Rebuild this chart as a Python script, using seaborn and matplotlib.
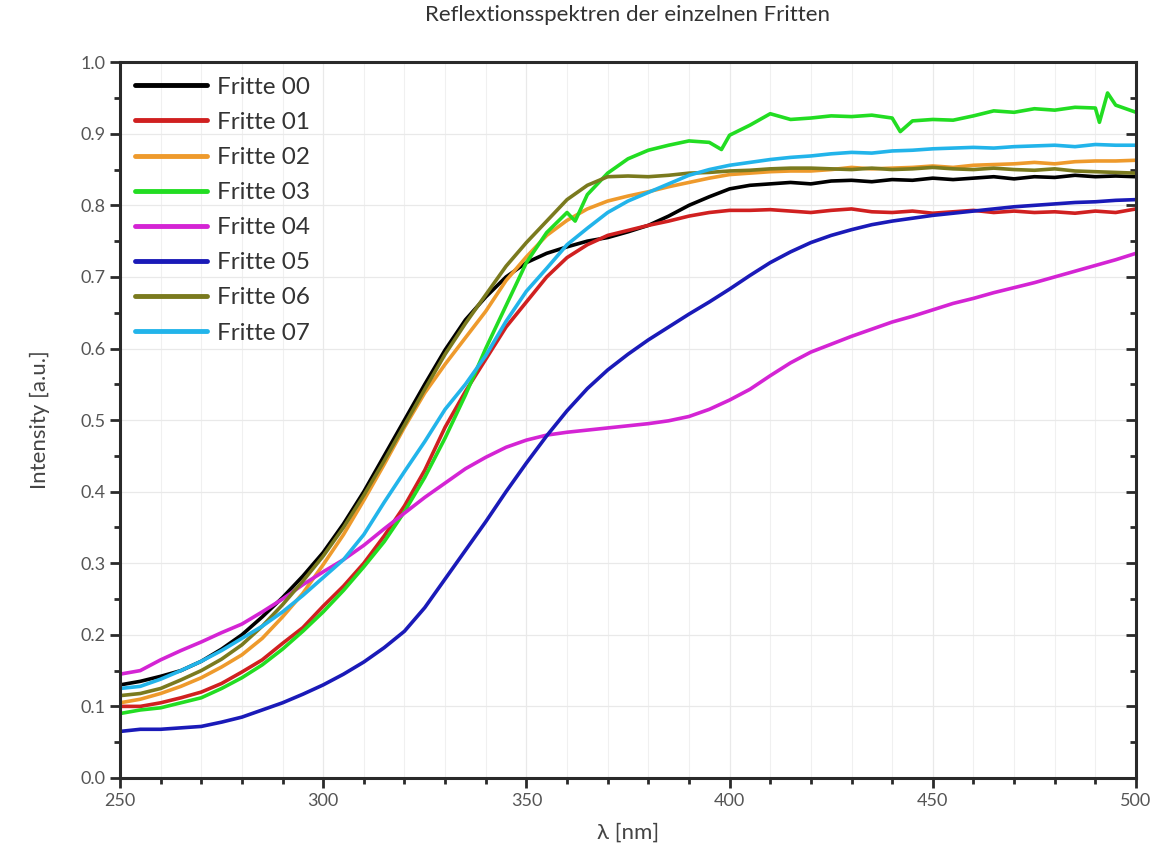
import numpy as np
import pandas as pd
import matplotlib
matplotlib.use("Agg")
import matplotlib.pyplot as plt
from matplotlib.ticker import MultipleLocator, FormatStrFormatter
import seaborn as sns

# Wavelength grid (nm) shared by most spectra
wavelength = list(range(250, 501, 5))

fritte_00 = [0.130, 0.135, 0.142, 0.150, 0.163, 0.180, 0.200, 0.225, 0.252, 0.282,
             0.315, 0.355, 0.400, 0.450, 0.500, 0.550, 0.598, 0.640, 0.672, 0.700,
             0.720, 0.733, 0.742, 0.750, 0.755, 0.763, 0.772, 0.785, 0.800, 0.812,
             0.823, 0.828, 0.830, 0.832, 0.830, 0.834, 0.835, 0.833, 0.836, 0.835,
             0.838, 0.836, 0.838, 0.840, 0.837, 0.840, 0.839, 0.842, 0.840, 0.841,
             0.840]
fritte_01 = [0.100, 0.100, 0.105, 0.112, 0.120, 0.132, 0.148, 0.165, 0.188, 0.210,
             0.240, 0.268, 0.300, 0.338, 0.380, 0.430, 0.490, 0.540, 0.585, 0.630,
             0.665, 0.700, 0.727, 0.745, 0.758, 0.765, 0.772, 0.778, 0.785, 0.790,
             0.793, 0.793, 0.794, 0.792, 0.790, 0.793, 0.795, 0.791, 0.790, 0.792,
             0.789, 0.791, 0.793, 0.790, 0.792, 0.790, 0.791, 0.789, 0.792, 0.790,
             0.795]
fritte_02 = [0.105, 0.110, 0.118, 0.128, 0.140, 0.155, 0.172, 0.195, 0.225, 0.258,
             0.298, 0.340, 0.388, 0.438, 0.490, 0.538, 0.578, 0.615, 0.652, 0.695,
             0.728, 0.758, 0.779, 0.795, 0.806, 0.813, 0.819, 0.826, 0.832, 0.838,
             0.843, 0.845, 0.847, 0.848, 0.848, 0.850, 0.853, 0.851, 0.852, 0.853,
             0.855, 0.853, 0.856, 0.857, 0.858, 0.860, 0.858, 0.861, 0.862, 0.862,
             0.863]
fritte_04 = [0.145, 0.150, 0.165, 0.178, 0.190, 0.203, 0.215, 0.232, 0.250, 0.270,
             0.288, 0.305, 0.325, 0.348, 0.370, 0.392, 0.412, 0.432, 0.448, 0.462,
             0.472, 0.479, 0.483, 0.486, 0.489, 0.492, 0.495, 0.499, 0.505, 0.515,
             0.528, 0.543, 0.562, 0.580, 0.595, 0.606, 0.617, 0.627, 0.637, 0.645,
             0.654, 0.663, 0.670, 0.678, 0.685, 0.692, 0.700, 0.708, 0.716, 0.724,
             0.733]
fritte_05 = [0.065, 0.068, 0.068, 0.070, 0.072, 0.078, 0.085, 0.095, 0.105, 0.117,
             0.130, 0.145, 0.162, 0.182, 0.205, 0.238, 0.278, 0.318, 0.358, 0.400,
             0.440, 0.478, 0.513, 0.544, 0.570, 0.592, 0.612, 0.630, 0.648, 0.665,
             0.683, 0.702, 0.720, 0.735, 0.748, 0.758, 0.766, 0.773, 0.778, 0.782,
             0.786, 0.789, 0.792, 0.795, 0.798, 0.800, 0.802, 0.804, 0.805, 0.807,
             0.808]
fritte_06 = [0.115, 0.118, 0.125, 0.137, 0.150, 0.166, 0.186, 0.212, 0.242, 0.275,
             0.310, 0.350, 0.395, 0.443, 0.493, 0.543, 0.592, 0.635, 0.675, 0.715,
             0.748, 0.778, 0.808, 0.828, 0.840, 0.841, 0.840, 0.842, 0.845, 0.846,
             0.848, 0.849, 0.851, 0.852, 0.852, 0.851, 0.850, 0.852, 0.850, 0.851,
             0.853, 0.851, 0.850, 0.852, 0.850, 0.849, 0.851, 0.848, 0.847, 0.846,
             0.845]
fritte_07 = [0.125, 0.128, 0.138, 0.150, 0.163, 0.178, 0.195, 0.212, 0.232, 0.255,
             0.280, 0.305, 0.340, 0.385, 0.428, 0.470, 0.515, 0.550, 0.590, 0.638,
             0.680, 0.712, 0.745, 0.768, 0.790, 0.806, 0.818, 0.830, 0.842, 0.850,
             0.856, 0.860, 0.864, 0.867, 0.869, 0.872, 0.874, 0.873, 0.876, 0.877,
             0.879, 0.880, 0.881, 0.880, 0.882, 0.883, 0.884, 0.882, 0.885, 0.884,
             0.884]

# Fritte 03 has a few sharp dips/spikes, so it carries its own wavelengths
wavelength_03 = [250, 255, 260, 265, 270, 275, 280, 285, 290, 295, 300, 305, 310,
                 315, 320, 325, 330, 335, 340, 345, 350, 355, 360, 362, 365, 370,
                 375, 380, 385, 390, 395, 398, 400, 405, 410, 415, 420, 425, 430,
                 435, 440, 442, 445, 450, 455, 460, 465, 470, 475, 480, 485, 490,
                 491, 493, 495, 500]
fritte_03 = [0.090, 0.095, 0.098, 0.105, 0.112, 0.125, 0.140, 0.158, 0.180, 0.205,
             0.232, 0.262, 0.295, 0.330, 0.372, 0.420, 0.475, 0.535, 0.600, 0.660,
             0.720, 0.762, 0.790, 0.778, 0.815, 0.845, 0.865, 0.877, 0.884, 0.890,
             0.888, 0.878, 0.898, 0.912, 0.928, 0.920, 0.922, 0.925, 0.924, 0.926,
             0.922, 0.903, 0.918, 0.920, 0.919, 0.925, 0.932, 0.930, 0.935, 0.933,
             0.937, 0.936, 0.916, 0.957, 0.940, 0.930]

labels = ["Fritte 00", "Fritte 01", "Fritte 02", "Fritte 03",
          "Fritte 04", "Fritte 05", "Fritte 06", "Fritte 07"]
colors = ["#000000", "#d02020", "#ee9a2c", "#22dd22",
          "#d424d4", "#1a1ab8", "#7a7a1e", "#22b4ea"]

series = {
    "Fritte 00": (wavelength, fritte_00),
    "Fritte 01": (wavelength, fritte_01),
    "Fritte 02": (wavelength, fritte_02),
    "Fritte 03": (wavelength_03, fritte_03),
    "Fritte 04": (wavelength, fritte_04),
    "Fritte 05": (wavelength, fritte_05),
    "Fritte 06": (wavelength, fritte_06),
    "Fritte 07": (wavelength, fritte_07),
}
frames = [pd.DataFrame({"wl": x, "I": y, "Probe": name})
          for name, (x, y) in series.items()]
df = pd.concat(frames, ignore_index=True)

sns.set_theme(style="white")
plt.rcParams["font.family"] = ["Lato", "DejaVu Sans"]

fig = plt.figure(figsize=(11.58, 8.52), dpi=100)
ax = fig.add_axes([0.1036, 0.0869, 0.8774, 0.8401])

sns.lineplot(data=df, x="wl", y="I", hue="Probe", hue_order=labels,
             palette=dict(zip(labels, colors)), linewidth=2.6,
             estimator=None, sort=False, ax=ax)

ax.set_xlim(250, 500)
ax.set_ylim(0.0, 1.0)
ax.xaxis.set_major_locator(MultipleLocator(50))
ax.xaxis.set_minor_locator(MultipleLocator(10))
ax.yaxis.set_major_locator(MultipleLocator(0.1))
ax.yaxis.set_minor_locator(MultipleLocator(0.05))
ax.yaxis.set_major_formatter(FormatStrFormatter("%.1f"))

ax.grid(True, which="major", color="#e9e9e9", linewidth=0.9)
ax.grid(True, which="minor", axis="x", color="#f0f0f0", linewidth=0.8)
ax.set_axisbelow(True)

for side in ["left", "bottom", "right", "top"]:
    ax.spines[side].set_visible(True)
    ax.spines[side].set_color("#2a2a2a")
    ax.spines[side].set_linewidth(2.2)

ax.tick_params(axis="both", which="major", direction="out", length=7, width=2,
               color="#2a2a2a", labelsize=13, labelcolor="#555555",
               bottom=True, left=True, right=True, top=False)
ax.tick_params(axis="both", which="minor", direction="out", length=4, width=2,
               color="#2a2a2a", bottom=True, left=True, right=True, top=False)
ax.tick_params(axis="y", which="both", right=True, labelright=False)
# right-hand ticks point into the plot
for t in ax.yaxis.get_major_ticks() + ax.yaxis.get_minor_ticks():
    t.tick2line.set_marker(matplotlib.lines.TICKLEFT)

ax.set_xlabel("λ [nm]", fontsize=16, color="#444444", labelpad=10)
ax.set_ylabel("Intensity [a.u.]", fontsize=16, color="#444444", labelpad=22)
ax.set_title("Reflextionsspektren der einzelnen Fritten", fontsize=16,
             color="#333333", pad=30)

handles, lbls = ax.get_legend_handles_labels()
leg = ax.legend(handles, lbls, loc="upper left", frameon=False, fontsize=17.5,
                handlelength=3.0, handletextpad=0.4, labelspacing=0.58,
                borderaxespad=0.2, bbox_to_anchor=(0.0, 1.0))
for line in leg.get_lines():
    line.set_linewidth(3.5)
for txt in leg.get_texts():
    txt.set_color("#333333")

fig.savefig("out.png", dpi=100)
